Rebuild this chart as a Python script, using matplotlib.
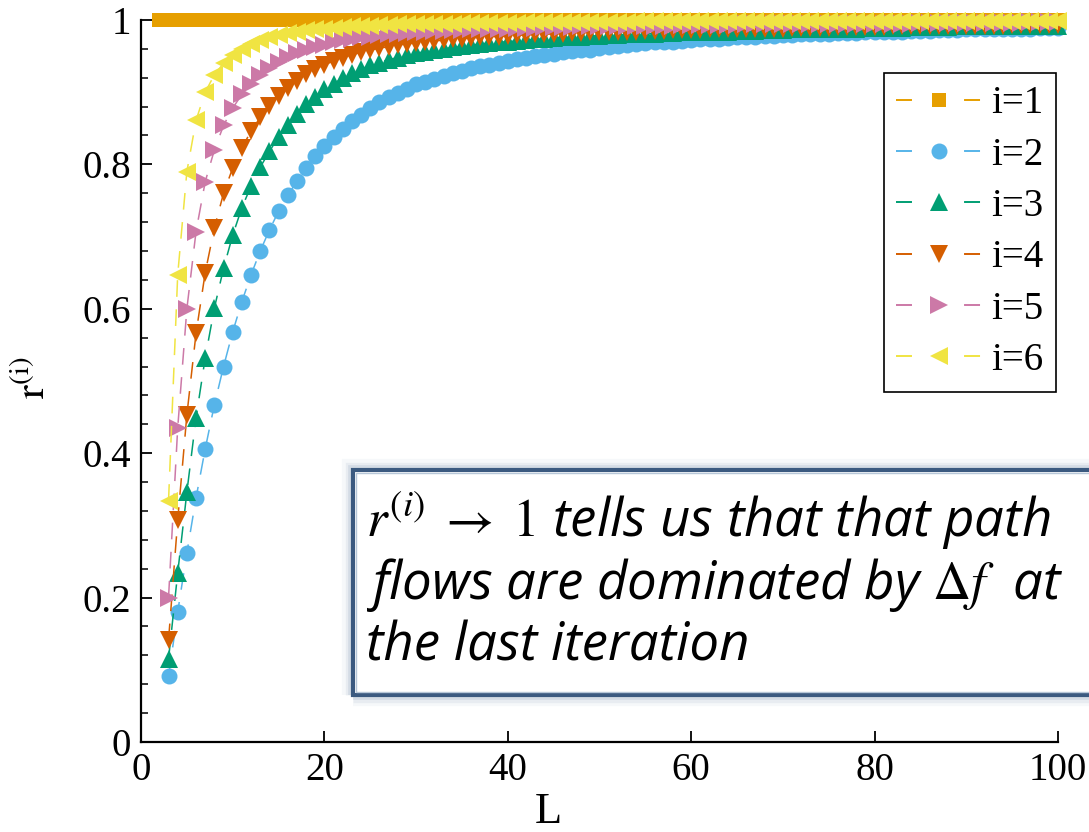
import numpy as np
import matplotlib
matplotlib.use('Agg')
import matplotlib.pyplot as plt
from matplotlib.lines import Line2D
from matplotlib.patches import Rectangle

plt.rcParams['font.family'] = ['Liberation Serif', 'DejaVu Serif']
plt.rcParams['mathtext.fontset'] = 'stix'
plt.rcParams['lines.scale_dashes'] = False

# path length L and ratio r^(i) for each path index i
L1 = np.arange(2, 101)
L = np.arange(3, 101)

r1 = [1.0] * len(L1)

r2 = [0.091, 0.180, 0.262, 0.338, 0.406, 0.467, 0.520, 0.568,
      0.610, 0.647, 0.680, 0.709, 0.735, 0.757, 0.777, 0.795, 0.811, 0.825,
      0.838, 0.849, 0.860, 0.869, 0.878, 0.886, 0.893, 0.899, 0.905, 0.911,
      0.914, 0.918, 0.922, 0.926, 0.929, 0.933, 0.936, 0.938, 0.941, 0.943,
      0.946, 0.948, 0.950, 0.952, 0.953, 0.955, 0.957, 0.958, 0.959, 0.961,
      0.963, 0.964, 0.965, 0.967, 0.968, 0.969, 0.969, 0.970, 0.971, 0.972,
      0.973, 0.974, 0.974, 0.975, 0.976, 0.977, 0.977, 0.978, 0.978, 0.979,
      0.979, 0.980, 0.980, 0.981, 0.981, 0.982, 0.982, 0.982, 0.983, 0.983,
      0.984, 0.984, 0.984, 0.985, 0.985, 0.985, 0.986, 0.986, 0.986, 0.987,
      0.987, 0.987, 0.987, 0.988, 0.988, 0.988, 0.988, 0.989, 0.989, 0.989]

r3 = [0.115, 0.234, 0.346, 0.449, 0.532, 0.601, 0.656, 0.702,
      0.740, 0.770, 0.796, 0.818, 0.838, 0.855, 0.870, 0.883, 0.894, 0.904,
      0.912, 0.919, 0.926, 0.932, 0.937, 0.941, 0.945, 0.948, 0.951, 0.954,
      0.956, 0.958, 0.960, 0.962, 0.964, 0.965, 0.967, 0.968, 0.969, 0.970,
      0.971, 0.972, 0.973, 0.974, 0.975, 0.976, 0.976, 0.977, 0.978, 0.978,
      0.979, 0.979, 0.980, 0.980, 0.981, 0.981, 0.982, 0.982, 0.983, 0.983,
      0.983, 0.984, 0.984, 0.984, 0.985, 0.985, 0.985, 0.986, 0.986, 0.986,
      0.987, 0.987, 0.987, 0.987, 0.988, 0.988, 0.988, 0.988, 0.989, 0.989,
      0.989, 0.989, 0.989, 0.990, 0.990, 0.990, 0.990, 0.990, 0.991, 0.991,
      0.991, 0.991, 0.991, 0.991, 0.992, 0.992, 0.992, 0.992, 0.992, 0.992]

r4 = [0.141, 0.307, 0.453, 0.566, 0.650, 0.712, 0.760, 0.795,
      0.823, 0.846, 0.865, 0.881, 0.895, 0.906, 0.916, 0.925, 0.932, 0.938,
      0.943, 0.948, 0.952, 0.955, 0.958, 0.961, 0.963, 0.965, 0.967, 0.968,
      0.970, 0.971, 0.972, 0.973, 0.974, 0.975, 0.976, 0.977, 0.977, 0.978,
      0.979, 0.979, 0.980, 0.980, 0.981, 0.981, 0.982, 0.982, 0.983, 0.983,
      0.983, 0.984, 0.984, 0.984, 0.985, 0.985, 0.985, 0.986, 0.986, 0.986,
      0.986, 0.987, 0.987, 0.987, 0.987, 0.988, 0.988, 0.988, 0.988, 0.988,
      0.989, 0.989, 0.989, 0.989, 0.989, 0.990, 0.990, 0.990, 0.990, 0.990,
      0.990, 0.991, 0.991, 0.991, 0.991, 0.991, 0.991, 0.992, 0.992, 0.992,
      0.992, 0.992, 0.992, 0.992, 0.993, 0.993, 0.993, 0.993, 0.993, 0.993]

r5 = [0.200, 0.435, 0.600, 0.707, 0.776, 0.820, 0.854, 0.878,
      0.897, 0.912, 0.924, 0.934, 0.942, 0.949, 0.954, 0.959, 0.963, 0.966,
      0.969, 0.972, 0.974, 0.976, 0.977, 0.979, 0.980, 0.981, 0.982, 0.983,
      0.984, 0.985, 0.985, 0.986, 0.986, 0.987, 0.987, 0.988, 0.988, 0.988,
      0.989, 0.989, 0.989, 0.990, 0.990, 0.990, 0.990, 0.991, 0.991, 0.991,
      0.991, 0.991, 0.992, 0.992, 0.992, 0.992, 0.992, 0.992, 0.993, 0.993,
      0.993, 0.993, 0.993, 0.993, 0.993, 0.994, 0.994, 0.994, 0.994, 0.994,
      0.994, 0.994, 0.994, 0.994, 0.995, 0.995, 0.995, 0.995, 0.995, 0.995,
      0.995, 0.995, 0.995, 0.995, 0.996, 0.996, 0.996, 0.996, 0.996, 0.996,
      0.996, 0.996, 0.996, 0.996, 0.996, 0.996, 0.997, 0.997, 0.997, 0.997]

r6 = [0.334, 0.647, 0.790, 0.861, 0.900, 0.924, 0.940, 0.952,
      0.960, 0.967, 0.972, 0.976, 0.979, 0.982, 0.984, 0.986, 0.987, 0.988,
      0.989, 0.990, 0.991, 0.992, 0.992, 0.993, 0.993, 0.994, 0.994, 0.994,
      0.995, 0.995, 0.995, 0.995, 0.996, 0.996, 0.996, 0.996, 0.996, 0.996,
      0.996, 0.997, 0.997, 0.997, 0.997, 0.997, 0.997, 0.997, 0.997, 0.997,
      0.997, 0.997, 0.997, 0.998, 0.998, 0.998, 0.998, 0.998, 0.998, 0.998,
      0.998, 0.998, 0.998, 0.998, 0.998, 0.998, 0.998, 0.998, 0.998, 0.998,
      0.998, 0.998, 0.998, 0.998, 0.999, 0.999, 0.999, 0.999, 0.999, 0.999,
      0.999, 0.999, 0.999, 0.999, 0.999, 0.999, 0.999, 0.999, 0.999, 0.999,
      0.999, 0.999, 0.999, 0.999, 0.999, 0.999, 0.999, 0.999, 0.999, 0.999]

labels = ['i=1', 'i=2', 'i=3', 'i=4', 'i=5', 'i=6']
colors = ['#E69F00', '#56B4E9', '#009E73', '#D55E00', '#CC79A7', '#F0E442']
markers = ['s', 'o', '^', 'v', '>', '<']
msizes = [9.5, 11.5, 12.5, 12.5, 12.5, 12.5]

fig = plt.figure(figsize=(10.89, 8.32), dpi=100)
ax = fig.add_axes([0.1295, 0.1082, 0.8420, 0.8678])

handles = []
for x, y, c, m, ms, lab in zip([L1, L, L, L, L, L], [r1, r2, r3, r4, r5, r6],
                               colors, markers, msizes, labels):
    ax.plot(x, y, color=c, lw=1.1, dashes=(12, 9), marker=m, ms=ms,
            mew=0, clip_on=False)
    handles.append(Line2D([], [], color=c, lw=1.4, dashes=(11.5, 37.5),
                          marker=m, ms=ms, mew=0, label=lab))

ax.set_xlim(0, 100)
ax.set_ylim(0, 1)
ax.set_xticks(range(0, 101, 20))
ax.set_yticks([0, 0.2, 0.4, 0.6, 0.8, 1])
ax.set_yticklabels(['0', '0.2', '0.4', '0.6', '0.8', '1'])
ax.set_yticks(np.arange(0, 1.001, 0.04), minor=True)
ax.tick_params(which='major', direction='in', labelsize=28, width=1.3,
               length=8, pad=7)
ax.tick_params(which='minor', direction='in', width=1.1, length=5)
ax.spines[['top', 'right']].set_visible(False)
for s in ['left', 'bottom']:
    ax.spines[s].set_linewidth(1.6)

ax.set_xlabel('L', fontsize=32)
ax.xaxis.set_label_coords(0.444, -0.069)
ax.set_ylabel(r'$\mathrm{r}^{(\mathrm{i})}$', fontsize=30)
ax.yaxis.set_label_coords(-0.095, 0.505)

leg = ax.legend(handles=handles, loc='upper right', bbox_to_anchor=(0.998, 0.927),
                borderaxespad=0, fontsize=28, handlelength=2.2,
                handletextpad=0.25, labelspacing=0.37, borderpad=0.32,
                fancybox=False, edgecolor='black', framealpha=1)
leg.get_frame().set_linewidth(1.2)

# annotation box in the lower right, running off the right edge
bx, by, bw, bh = 0.3242, 0.1647, 0.75, 0.2704
for lw, a in [(16, 0.06), (11, 0.10), (7, 0.16)]:
    fig.add_artist(Rectangle((bx, by), bw, bh, transform=fig.transFigure,
                             fill=False, ec='#6f8bab', lw=lw, alpha=a, zorder=5))
fig.add_artist(Rectangle((bx, by), bw, bh, transform=fig.transFigure,
                         fc='white', ec='#3b5a80', lw=3, zorder=6))
fig.add_artist(Rectangle((bx + 0.003, by + 0.004), bw, bh - 0.008,
                         transform=fig.transFigure, fill=False, ec='#b7c7d8',
                         lw=1, zorder=6))

note = [r'$r^{(i)}\;\rightarrow\;1$ tells us that that path',
        r'flows are dominated by $\Delta f$  at',
        'the last iteration']
for k, line in enumerate(note):
    fig.text(0.336, 0.3546 - k * 0.0745, line, fontsize=38, fontstyle='italic',
             family=['Open Sans', 'DejaVu Sans'], va='baseline', ha='left',
             zorder=7)

fig.savefig('out.png', dpi=100)
